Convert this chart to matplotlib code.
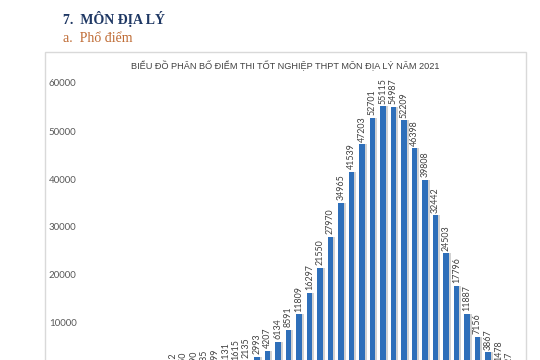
import matplotlib.pyplot as plt
from matplotlib.patches import Rectangle

# điểm 0 -> 10, bước 0.25
scores = [i * 0.25 for i in range(41)]
counts = [12, 1, 2, 5, 21, 35, 48, 82, 142, 250, 390, 585, 799, 1131, 1615,
          2135, 2993, 4207, 6134, 8591, 11809, 16297, 21550, 27970, 34965,
          41539, 47203, 52701, 55115, 54987, 52209, 46398, 39808, 32442,
          24503, 17796, 11887, 7156, 3867, 1478, 327]
yticks = [10000, 20000, 30000, 40000, 50000, 60000]

heading = '7.  MÔN ĐỊA LÝ'
subheading = 'a.  Phổ điểm'
title = 'BIỂU ĐỒ PHÂN BỐ ĐIỂM THI TỐT NGHIỆP THPT MÔN ĐỊA LÝ NĂM 2021'

W, H = 540, 360
fig = plt.figure(figsize=(5.4, 3.6), dpi=100)

# khung biểu đồ (bị cắt ở dưới)
fig.patches.append(Rectangle((45 / W, -0.2), (526 - 45) / W, 1.2 - 52 / H,
                             transform=fig.transFigure, fill=False,
                             edgecolor='#d9d9d9', lw=1))

fig.text(63 / W, 1 - 24 / H, heading, family=['Liberation Serif', 'DejaVu Serif'],
         fontsize=10, fontweight='bold', color='#1f3864', va='baseline')
fig.text(63 / W, 1 - 42 / H, subheading, family=['Liberation Serif', 'DejaVu Serif'],
         fontsize=10, color='#bf6b34', va='baseline')
fig.text(285 / W, 1 - 66 / H, title, family=['Liberation Sans', 'DejaVu Sans'],
         fontsize=6.6, color='#404040', ha='center', va='center')

# trục: 0 ở y=371px, 10000 = 48px
ymax = 62000
top_px = 371 - ymax * 0.0048
ax = fig.add_axes([82 / W, (H - 371) / H, 436 / W, (371 - top_px) / H])
ax.set_ylim(0, ymax)
ax.set_xlim(-0.667, 40.857)

idx = list(range(len(scores)))
ax.bar([i + 0.22 for i in idx], counts, width=0.5, color='#c4c4c4', alpha=0.75, zorder=1)
ax.bar(idx, counts, width=0.5, color='#2e6fba', zorder=2)
for i, c in zip(idx, counts):
    ax.annotate(str(c), (i, c), xytext=(0, 2), textcoords='offset points',
                rotation=90, ha='center', va='bottom', fontsize=6.4,
                family=['Lato', 'DejaVu Sans'], color='#404040')

ax.set_yticks(yticks)
ax.set_yticklabels([str(v) for v in yticks], family=['Lato', 'DejaVu Sans'],
                   fontsize=7, color='#595959')
ax.tick_params(axis='y', length=0, pad=4)
ax.set_xticks([])
for s in ax.spines.values():
    s.set_visible(False)
ax.patch.set_alpha(0)

fig.savefig('out.png', dpi=100)
